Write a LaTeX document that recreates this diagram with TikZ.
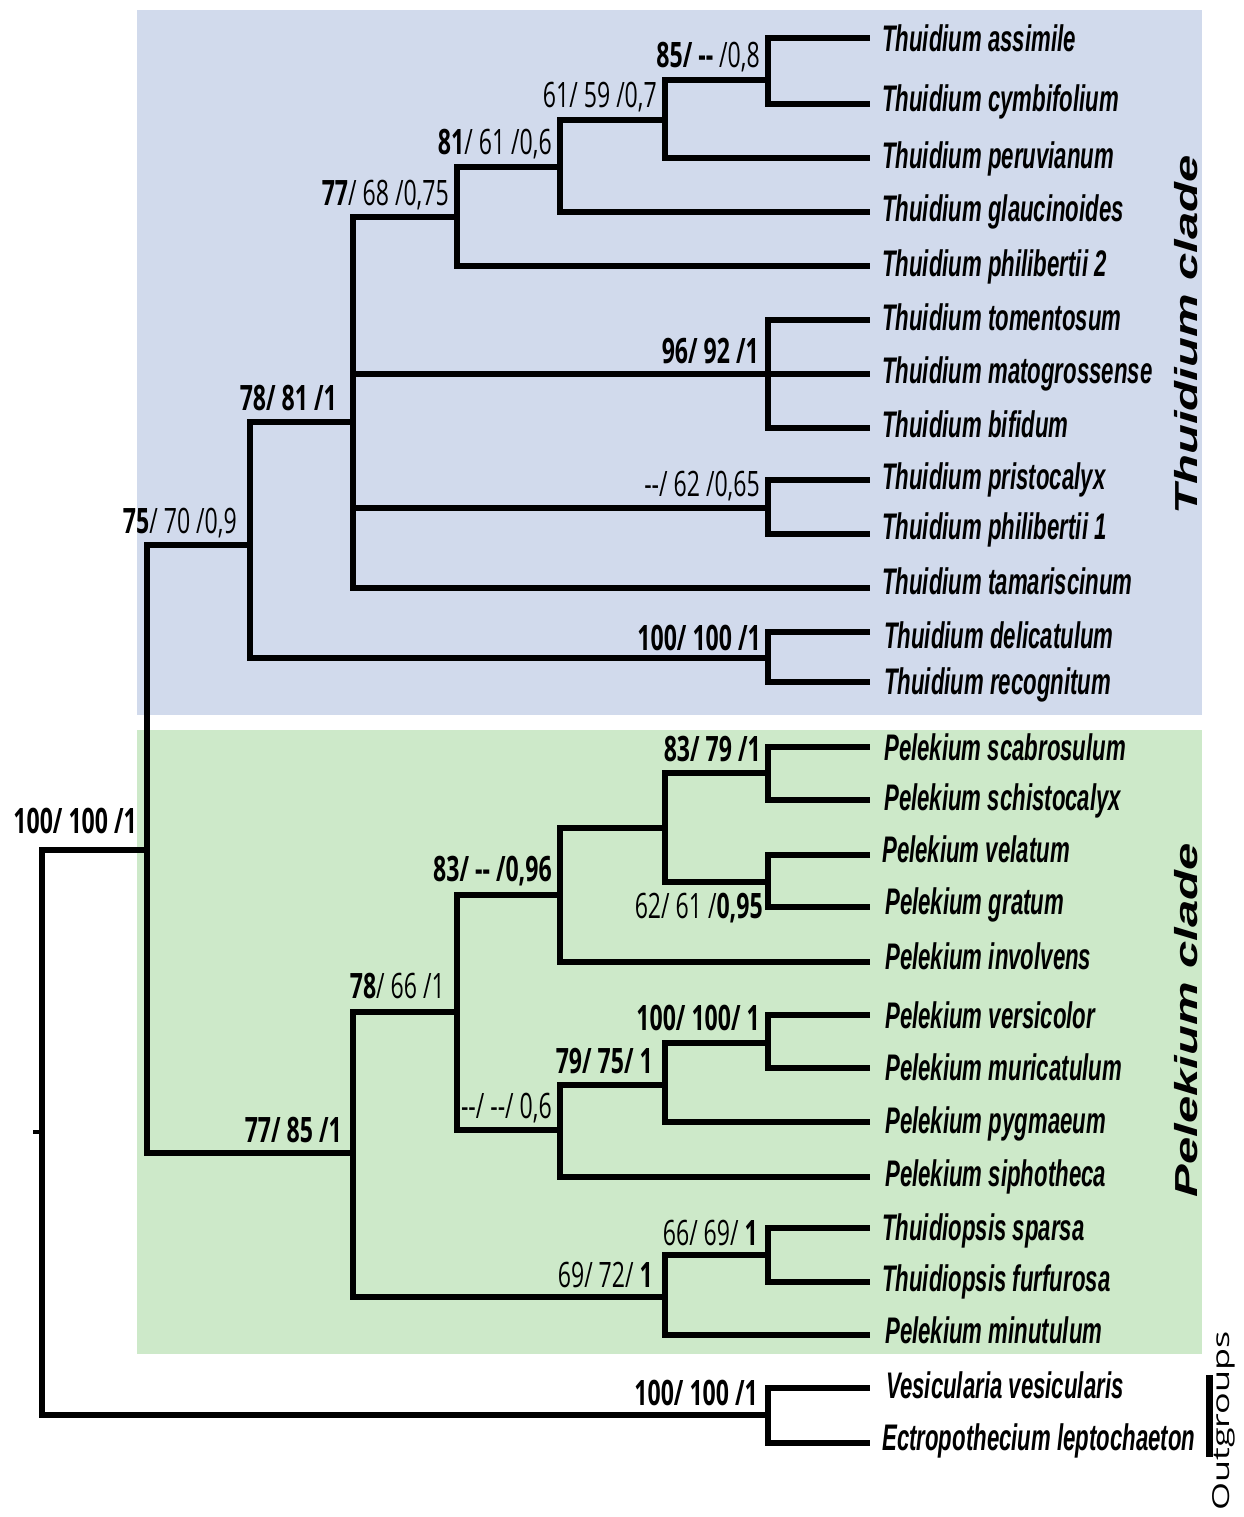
\documentclass[tikz,border=0pt]{standalone}
\usepackage{fontspec}
\usepackage{graphicx}
\setmainfont{Liberation Sans}
\newfontfamily\numfont{Open Sans}[FakeStretch=0.66]
\newfontfamily\taxfont{Liberation Sans}[FakeStretch=0.6]
\newfontfamily\cladefont{Liberation Sans}
\newfontfamily\outfont{Open Sans}
\definecolor{thuibg}{RGB}{209,218,236}
\definecolor{pelebg}{RGB}{205,233,201}
\newcommand\bnum[1]{{\bfseries #1}}
\begin{document}
\begin{tikzpicture}[x=1pt,y=-1pt,
  branch/.style={line width=5.5pt, line join=miter},
  support/.style={anchor=base east, inner sep=0pt, font=\numfont\fontsize{35}{38}\selectfont},
  taxon/.style={anchor=base west, inner sep=0pt, font=\taxfont\bfseries\itshape\fontsize{37}{40}\selectfont},
  clade/.style={rotate=90, inner sep=0pt, font=\cladefont\bfseries\itshape\fontsize{49}{52}\selectfont},
]
\useasboundingbox (0,0) rectangle (1244,1517);
\fill[thuibg] (137,10) rectangle (1202,715);
\fill[pelebg] (137,730) rectangle (1202,1354);

% internal nodes
\coordinate (stub) at (33,1132);
\coordinate (R) at (42,1132);
\coordinate (I) at (147,850);
\coordinate (T75) at (250,545);
\coordinate (T78) at (353,422);
\coordinate (T77) at (457,217);
\coordinate (T81) at (560,167);
\coordinate (T61) at (665,120);
\coordinate (T85) at (768,80);
\coordinate (T96) at (768,374);
\coordinate (T62) at (768,508);
\coordinate (D100) at (768,658);
\coordinate (P77) at (353,1153);
\coordinate (P78) at (457,1012);
\coordinate (P83) at (560,895);
\coordinate (PA) at (665,828);
\coordinate (P8379) at (768,773);
\coordinate (P62) at (768,882);
\coordinate (P06) at (560,1130);
\coordinate (P79) at (665,1085);
\coordinate (P100) at (768,1043);
\coordinate (P69) at (665,1297);
\coordinate (P66) at (768,1255);
\coordinate (O) at (768,1415);

% tips
\coordinate (assimile) at (870,38);
\coordinate (cymbifolium) at (870,104);
\coordinate (peruvianum) at (870,158);
\coordinate (glaucinoides) at (870,212);
\coordinate (philibertiiB) at (870,266);
\coordinate (tomentosum) at (870,320);
\coordinate (matogrossense) at (870,374);
\coordinate (bifidum) at (870,428);
\coordinate (pristocalyx) at (870,480);
\coordinate (philibertiiA) at (870,534);
\coordinate (tamariscinum) at (870,588);
\coordinate (delicatulum) at (870,632);
\coordinate (recognitum) at (870,682);
\coordinate (scabrosulum) at (870,747);
\coordinate (schistocalyx) at (870,800);
\coordinate (velatum) at (870,855);
\coordinate (gratum) at (870,907);
\coordinate (involvens) at (870,962);
\coordinate (versicolor) at (870,1015);
\coordinate (muricatulum) at (870,1068);
\coordinate (pygmaeum) at (870,1122);
\coordinate (siphotheca) at (870,1177);
\coordinate (sparsa) at (870,1228);
\coordinate (furfurosa) at (870,1282);
\coordinate (minutulum) at (870,1335);
\coordinate (vesicularis) at (870,1388);
\coordinate (leptochaeton) at (870,1443);

% branches
\draw[line width=4pt] (stub) -- (R);
\draw[branch] (R) |- (I);
\draw[branch] (R) |- (O);
\draw[branch] (I) |- (T75);
\draw[branch] (I) |- (P77);
\draw[branch] (T75) |- (T78);
\draw[branch] (T75) |- (D100);
\draw[branch] (T78) |- (T77);
\draw[branch] (T78) |- (T96);
\draw[branch] (T78) |- (T62);
\draw[branch] (T78) |- (tamariscinum);
\draw[branch] (T77) |- (T81);
\draw[branch] (T77) |- (philibertiiB);
\draw[branch] (T81) |- (T61);
\draw[branch] (T81) |- (glaucinoides);
\draw[branch] (T61) |- (T85);
\draw[branch] (T61) |- (peruvianum);
\draw[branch] (T85) |- (assimile);
\draw[branch] (T85) |- (cymbifolium);
\draw[branch] (T96) |- (tomentosum);
\draw[branch] (T96) |- (matogrossense);
\draw[branch] (T96) |- (bifidum);
\draw[branch] (T62) |- (pristocalyx);
\draw[branch] (T62) |- (philibertiiA);
\draw[branch] (D100) |- (delicatulum);
\draw[branch] (D100) |- (recognitum);
\draw[branch] (P77) |- (P78);
\draw[branch] (P77) |- (P69);
\draw[branch] (P78) |- (P83);
\draw[branch] (P78) |- (P06);
\draw[branch] (P83) |- (PA);
\draw[branch] (P83) |- (involvens);
\draw[branch] (PA) |- (P8379);
\draw[branch] (PA) |- (P62);
\draw[branch] (P8379) |- (scabrosulum);
\draw[branch] (P8379) |- (schistocalyx);
\draw[branch] (P62) |- (velatum);
\draw[branch] (P62) |- (gratum);
\draw[branch] (P06) |- (P79);
\draw[branch] (P06) |- (siphotheca);
\draw[branch] (P79) |- (P100);
\draw[branch] (P79) |- (pygmaeum);
\draw[branch] (P100) |- (versicolor);
\draw[branch] (P100) |- (muricatulum);
\draw[branch] (P69) |- (P66);
\draw[branch] (P69) |- (minutulum);
\draw[branch] (P66) |- (sparsa);
\draw[branch] (P66) |- (furfurosa);
\draw[branch] (O) |- (vesicularis);
\draw[branch] (O) |- (leptochaeton);

% support values
\node[support] (lI) at ([xshift=-10pt,yshift=17pt]I) {\bnum{100/ 100 /1}};
\node[support] (lT75) at ([xshift=-13pt,yshift=12pt]T75) {\bnum{75}/ 70 /0,9};
\node[support] (lT78) at ([xshift=-16pt,yshift=12pt]T78) {\bnum{78/ 81 /1}};
\node[support] (lT77) at ([xshift=-8pt,yshift=12pt]T77) {\bnum{77}/ 68 /0,75};
\node[support] (lT81) at ([xshift=-8pt,yshift=12pt]T81) {\bnum{81}/ 61 /0,6};
\node[support] (lT61) at ([xshift=-8pt,yshift=12pt]T61) {61/ 59 /0,7};
\node[support] (lT85) at ([xshift=-8pt,yshift=12pt]T85) {\bnum{85/ -{}-} /0,8};
\node[support] (lT96) at ([xshift=-9pt,yshift=11pt]T96) {\bnum{96/ 92 /1}};
\node[support] (lT62) at ([xshift=-8pt,yshift=12pt]T62) {-{}-/ 62 /0,65};
\node[support] (lD100) at ([xshift=-7pt,yshift=8pt]D100) {\bnum{100/ 100 /1}};
\node[support] (lP8379) at ([xshift=-7pt,yshift=12pt]P8379) {\bnum{83/ 79 /1}};
\node[support] (lP62) at ([xshift=-5pt,yshift=-36pt]P62) {62/ 61 /\bnum{0,95}};
\node[support] (lP83) at ([xshift=-8pt,yshift=14pt]P83) {\bnum{83/ -{}- /0,96}};
\node[support] (lP78) at ([xshift=-12pt,yshift=14pt]P78) {\bnum{78}/ 66 /1};
\node[support] (lP100) at ([xshift=-8pt,yshift=13pt]P100) {\bnum{100/ 100/ 1}};
\node[support] (lP79) at ([xshift=-12pt,yshift=12pt]P79) {\bnum{79/ 75/ 1}};
\node[support] (lP06) at ([xshift=-8pt,yshift=12pt]P06) {-{}-/ -{}-/ 0,6};
\node[support] (lP77) at ([xshift=-11pt,yshift=11pt]P77) {\bnum{77/ 85 /1}};
\node[support] (lP66) at ([xshift=-10pt,yshift=10pt]P66) {66/ 69/ \bnum{1}};
\node[support] (lP69) at ([xshift=-12pt,yshift=10pt]P69) {69/ 72/ \bnum{1}};
\node[support] (lO) at ([xshift=-10pt,yshift=10pt]O) {\bnum{100/ 100 /1}};

% taxa
\node[taxon] (nassimile) at ([xshift=12pt,yshift=-14pt]assimile) {Thuidium assimile};
\node[taxon] (ncymbifolium) at ([xshift=12pt,yshift=-8pt]cymbifolium) {Thuidium cymbifolium};
\node[taxon] (nperuvianum) at ([xshift=12pt,yshift=-11pt]peruvianum) {Thuidium peruvianum};
\node[taxon] (nglaucinoides) at ([xshift=12pt,yshift=-10pt]glaucinoides) {Thuidium glaucinoides};
\node[taxon] (nphilibertiiB) at ([xshift=12pt,yshift=-10pt]philibertiiB) {Thuidium philibertii 2};
\node[taxon] (ntomentosum) at ([xshift=12pt,yshift=-10pt]tomentosum) {Thuidium tomentosum};
\node[taxon] (nmatogrossense) at ([xshift=12pt,yshift=-9pt]matogrossense) {Thuidium matogrossense};
\node[taxon] (nbifidum) at ([xshift=12pt,yshift=-9pt]bifidum) {Thuidium bifidum};
\node[taxon] (npristocalyx) at ([xshift=12pt,yshift=-9pt]pristocalyx) {Thuidium pristocalyx};
\node[taxon] (nphilibertiiA) at ([xshift=12pt,yshift=-5pt]philibertiiA) {Thuidium philibertii 1};
\node[taxon] (ntamariscinum) at ([xshift=12pt,yshift=-6pt]tamariscinum) {Thuidium tamariscinum};
\node[taxon] (ndelicatulum) at ([xshift=14pt,yshift=-16pt]delicatulum) {Thuidium delicatulum};
\node[taxon] (nrecognitum) at ([xshift=14pt,yshift=-12pt]recognitum) {Thuidium recognitum};
\node[taxon] (nscabrosulum) at ([xshift=14pt,yshift=-13pt]scabrosulum) {Pelekium scabrosulum};
\node[taxon] (nschistocalyx) at ([xshift=14pt,yshift=-10pt]schistocalyx) {Pelekium schistocalyx};
\node[taxon] (nvelatum) at ([xshift=12pt,yshift=-7pt]velatum) {Pelekium velatum};
\node[taxon] (ngratum) at ([xshift=15pt,yshift=-7pt]gratum) {Pelekium gratum};
\node[taxon] (ninvolvens) at ([xshift=15pt,yshift=-7pt]involvens) {Pelekium involvens};
\node[taxon] (nversicolor) at ([xshift=15pt,yshift=-13pt]versicolor) {Pelekium versicolor};
\node[taxon] (nmuricatulum) at ([xshift=15pt,yshift=-12pt]muricatulum) {Pelekium muricatulum};
\node[taxon] (npygmaeum) at ([xshift=15pt,yshift=-11pt]pygmaeum) {Pelekium pygmaeum};
\node[taxon] (nsiphotheca) at ([xshift=15pt,yshift=-9pt]siphotheca) {Pelekium siphotheca};
\node[taxon] (nsparsa) at ([xshift=12pt,yshift=-12pt]sparsa) {Thuidiopsis sparsa};
\node[taxon] (nfurfurosa) at ([xshift=12pt,yshift=-9pt]furfurosa) {Thuidiopsis furfurosa};
\node[taxon] (nminutulum) at ([xshift=15pt,yshift=-8pt]minutulum) {Pelekium minutulum};
\node[taxon] (nvesicularis) at ([xshift=16pt,yshift=-10pt]vesicularis) {Vesicularia vesicularis};
\node[taxon] (nleptochaeton) at ([xshift=12pt,yshift=-7pt]leptochaeton) {Ectropothecium leptochaeton};

% clade labels
\node[clade] (cladeT) at (1186,335) {\scalebox{1}[0.65]{Thuidium clade}};
\node[clade] (cladeP) at (1186,1020) {\scalebox{1}[0.65]{Pelekium clade}};
\coordinate (barTop) at (1209,1375);
\coordinate (barBot) at (1209,1457);
\draw[line width=7pt] (barTop) -- (barBot);
\node[rotate=90, inner sep=0pt, font=\outfont\fontsize{36}{38}\selectfont] (outg) at (1224,1421) {\scalebox{1}[0.65]{Outgroups}};
\end{tikzpicture}
\end{document}
